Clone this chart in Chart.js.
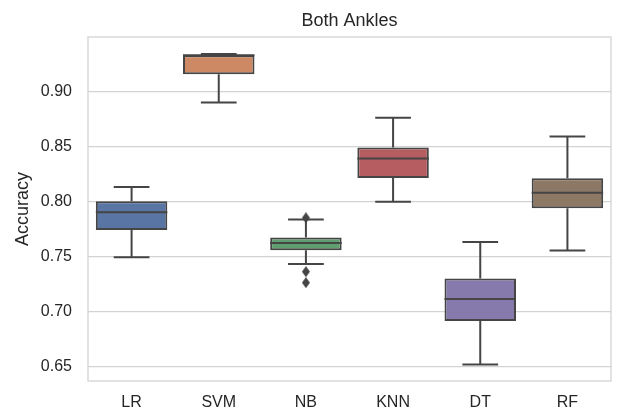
<!DOCTYPE html>
<html>
<head>
<meta charset="utf-8">
<script src="https://cdn.jsdelivr.net/npm/chart.js@4/dist/chart.umd.min.js"></script>
<style>
  html, body { margin: 0; padding: 0; background: #ffffff; }
  #wrap { width: 617px; height: 412px; }
</style>
</head>
<body>
<div id="wrap"><canvas id="c"></canvas></div>
<script>
// Classifier accuracy distributions (five-number summaries per model)
const categories  = ['LR', 'SVM', 'NB', 'KNN', 'DT', 'RF'];
const whiskerLow  = [0.749, 0.890, 0.743, 0.7995, 0.6515, 0.7553];
const quartile1   = [0.774, 0.9155, 0.7555, 0.8213, 0.691, 0.7936];
const medians     = [0.790, 0.933, 0.762, 0.839, 0.711, 0.8078];
const quartile3   = [0.800, 0.933, 0.767, 0.849, 0.7297, 0.821];
const whiskerHigh = [0.813, 0.934, 0.7835, 0.876, 0.763, 0.859];

// Points beyond the whiskers
const outlierCategory = ['NB', 'NB', 'NB'];
const outlierValue    = [0.785, 0.736, 0.726];

const yTicks = [0.65, 0.70, 0.75, 0.80, 0.85, 0.90];

const boxColors = ['#5875a4', '#cc8963', '#5f9e6e', '#b55d60', '#857aab', '#8d7866'];
const lineColor = '#454545';
const gridColor = '#d3d3d3';
const textColor = '#262626';
const fontFamily = '"Liberation Sans", Arial, sans-serif';

// Thin diamond marker for outliers
function makeDiamond(w, h) {
  const cv = document.createElement('canvas');
  cv.width = w; cv.height = h;
  const g = cv.getContext('2d');
  g.fillStyle = lineColor;
  g.beginPath();
  g.moveTo(w / 2, 0);
  g.lineTo(w, h / 2);
  g.lineTo(w / 2, h);
  g.lineTo(0, h / 2);
  g.closePath();
  g.fill();
  return cv;
}

// Light frame around the plotting area
const framePlugin = {
  id: 'frame',
  beforeDatasetsDraw(chart) {
    const { ctx, chartArea: a } = chart;
    ctx.save();
    ctx.strokeStyle = gridColor;
    ctx.lineWidth = 1.3;
    ctx.strokeRect(a.left, a.top, a.right - a.left, a.bottom - a.top);
    ctx.restore();
  }
};

// Whiskers and caps behind the boxes, median lines on top
const boxPartsPlugin = {
  id: 'boxParts',
  beforeDatasetsDraw(chart) {
    const { ctx } = chart;
    const y = chart.scales.y;
    const bars = chart.getDatasetMeta(0).data;
    ctx.save();
    ctx.strokeStyle = lineColor;
    ctx.lineWidth = 2;
    bars.forEach((bar, i) => {
      const cx = bar.x;
      const capHalf = bar.width / 4;
      const yLo = y.getPixelForValue(whiskerLow[i]);
      const yHi = y.getPixelForValue(whiskerHigh[i]);
      const yQ1 = y.getPixelForValue(quartile1[i]);
      const yQ3 = y.getPixelForValue(quartile3[i]);
      ctx.beginPath();
      ctx.moveTo(cx, yQ1); ctx.lineTo(cx, yLo);
      ctx.moveTo(cx, yQ3); ctx.lineTo(cx, yHi);
      ctx.moveTo(cx - capHalf, yLo); ctx.lineTo(cx + capHalf, yLo);
      ctx.moveTo(cx - capHalf, yHi); ctx.lineTo(cx + capHalf, yHi);
      ctx.stroke();
    });
    ctx.restore();
  },
  afterDatasetsDraw(chart) {
    const { ctx } = chart;
    const y = chart.scales.y;
    const bars = chart.getDatasetMeta(0).data;
    ctx.save();
    ctx.strokeStyle = lineColor;
    ctx.lineWidth = 2;
    bars.forEach((bar, i) => {
      const half = bar.width / 2;
      const ym = y.getPixelForValue(medians[i]);
      ctx.beginPath();
      ctx.moveTo(bar.x - half, ym);
      ctx.lineTo(bar.x + half, ym);
      ctx.stroke();
    });
    ctx.restore();
  }
};

new Chart(document.getElementById('c'), {
  type: 'bar',
  data: {
    labels: categories,
    datasets: [
      {
        type: 'bar',
        data: categories.map((_, i) => [quartile1[i], quartile3[i]]),
        backgroundColor: boxColors,
        borderColor: lineColor,
        borderWidth: 2,
        borderSkipped: false,
        barPercentage: 0.82,
        categoryPercentage: 1.0,
        order: 2
      },
      {
        type: 'line',
        data: outlierCategory.map((c, i) => ({ x: c, y: outlierValue[i] })),
        showLine: false,
        pointStyle: makeDiamond(8, 11),
        pointRadius: 5,
        order: 1
      }
    ]
  },
  options: {
    responsive: true,
    maintainAspectRatio: false,
    animation: false,
    layout: { padding: { left: 0, right: 5, top: 0, bottom: 0 } },
    plugins: {
      legend: { display: false },
      tooltip: { enabled: false },
      title: {
        display: true,
        text: 'Both Ankles',
        fullSize: false,
        color: textColor,
        font: { family: fontFamily, size: 18, weight: 'normal' },
        padding: { top: 10, bottom: 5.4 }
      }
    },
    scales: {
      x: {
        type: 'category',
        offset: true,
        grid: { display: false, drawTicks: false },
        border: { display: false },
        ticks: { color: textColor, font: { family: fontFamily, size: 16 }, padding: 12 },
        afterFit(scale) { scale.height = 31; }
      },
      y: {
        type: 'linear',
        min: 0.6365,
        max: 0.9495,
        afterBuildTicks(scale) { scale.ticks = yTicks.map(v => ({ value: v })); },
        grid: { color: gridColor, lineWidth: 1.2, drawTicks: false },
        border: { display: false },
        ticks: {
          color: textColor,
          font: { family: fontFamily, size: 16 },
          padding: 16,
          callback: v => Number(v).toFixed(2)
        },
        title: {
          display: true,
          text: 'Accuracy',
          color: textColor,
          font: { family: fontFamily, size: 18 },
          padding: { top: 12.5, bottom: 0 }
        },
        afterFit(scale) { scale.width = 88; }
      }
    }
  },
  plugins: [framePlugin, boxPartsPlugin]
});
</script>
</body>
</html>
